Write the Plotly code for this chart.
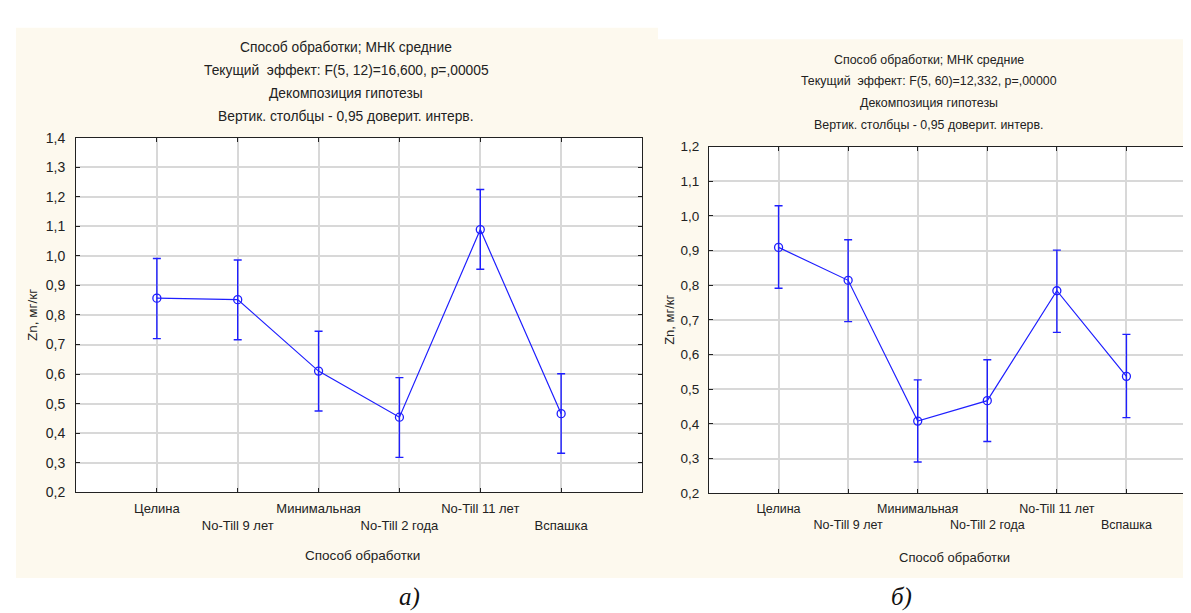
import plotly.graph_objects as go

categories = ["Целина", "No-Till 9 лет", "Минимальная", "No-Till 2 года", "No-Till 11 лет", "Вспашка"]

# Panel a)
mean_a = [0.857, 0.852, 0.610, 0.454, 1.089, 0.466]
upper_a = [0.991, 0.986, 0.745, 0.588, 1.225, 0.601]
lower_a = [0.720, 0.716, 0.475, 0.318, 0.955, 0.332]

# Panel б)
mean_b = [0.909, 0.814, 0.408, 0.467, 0.784, 0.537]
upper_b = [1.029, 0.931, 0.527, 0.585, 0.901, 0.658]
lower_b = [0.791, 0.695, 0.290, 0.349, 0.664, 0.418]

titles_a = ["Способ обработки; МНК средние",
            "Текущий  эффект: F(5, 12)=16,600, p=,00005",
            "Декомпозиция гипотезы",
            "Вертик. столбцы - 0,95 доверит. интерв."]
titles_b = ["Способ обработки; МНК средние",
            "Текущий  эффект: F(5, 60)=12,332, p=,00000",
            "Декомпозиция гипотезы",
            "Вертик. столбцы - 0,95 доверит. интерв."]

y_title = "Zn, мг/кг"
x_title = "Способ обработки"

W, H = 1191, 613
FONT = "Liberation Sans Narrow, Arial Narrow, Liberation Sans, Arial, sans-serif"
BLUE = "#1f1fff"
BEIGE = "#FDF9EE"
TXT = "#222222"

xpos = list(range(1, len(categories) + 1))
ticktext = [c if i % 2 == 0 else "<br>" + c for i, c in enumerate(categories)]


def px(x):
    return x / W


def py(y):
    return 1 - y / H


fig = go.Figure()

for mean, up, lo, xa, ya in [(mean_a, upper_a, lower_a, "x", "y"),
                             (mean_b, upper_b, lower_b, "x2", "y2")]:
    fig.add_trace(go.Scatter(
        x=xpos, y=mean, mode="lines+markers", xaxis=xa, yaxis=ya,
        line=dict(color=BLUE, width=1.2),
        marker=dict(symbol="circle-open", size=8, color=BLUE, line=dict(width=1.3)),
        error_y=dict(type="data", symmetric=False,
                     array=[u - m for u, m in zip(up, mean)],
                     arrayminus=[m - l for m, l in zip(mean, lo)],
                     color=BLUE, thickness=1.4, width=4),
        showlegend=False, hoverinfo="skip"))


def axis_common(size, standoff):
    return dict(
        showline=True, linecolor=TXT, linewidth=1, mirror="ticks",
        ticks="inside", ticklen=4, tickcolor=TXT,
        showgrid=True, gridcolor="#d8d8d8", gridwidth=1.5, zeroline=False,
        tickfont=dict(family=FONT, size=size, color=TXT),
        ticklabelstandoff=standoff,
    )


fig.update_layout(
    width=W, height=H,
    margin=dict(l=0, r=0, t=0, b=0),
    paper_bgcolor="white", plot_bgcolor="white",
    separators=", ",
    xaxis=dict(domain=[px(68), px(634)], range=[0, 7], tickvals=xpos, ticktext=ticktext,
               tickangle=0, anchor="y", **axis_common(13, 4)),
    yaxis=dict(domain=[py(489), py(125)], range=[0.2, 1.4], dtick=0.1, tick0=0.2,
               tickformat=".1f", anchor="x", **axis_common(14, 7)),
    xaxis2=dict(domain=[px(701), px(1188)], range=[0, 7], tickvals=xpos, ticktext=ticktext,
                tickangle=0, anchor="y2", **axis_common(12.5, 4)),
    yaxis2=dict(domain=[py(490), py(134)], range=[0.2, 1.2], dtick=0.1, tick0=0.2,
                tickformat=".1f", anchor="x2", **axis_common(13.5, 6)),
)

# panel backgrounds
fig.add_shape(type="rect", xref="paper", yref="paper", x0=px(8), x1=px(650), y0=py(577), y1=py(12),
              fillcolor=BEIGE, line=dict(width=0), layer="below")
fig.add_shape(type="rect", xref="paper", yref="paper", x0=px(650), x1=px(1191), y0=py(577), y1=py(24),
              fillcolor=BEIGE, line=dict(width=0), layer="below")
# white plotting areas
fig.add_shape(type="rect", xref="x domain", yref="y domain", x0=0, x1=1, y0=0, y1=1,
              fillcolor="white", line=dict(width=0), layer="below")
fig.add_shape(type="rect", xref="x2 domain", yref="y2 domain", x0=0, x1=1, y0=0, y1=1,
              fillcolor="white", line=dict(width=0), layer="below")


def note(text, x, y, size, angle=0, family=FONT, color=TXT):
    return dict(text=text, x=px(x), y=py(y), xref="paper", yref="paper",
                showarrow=False, xanchor="center", yanchor="middle", textangle=angle,
                font=dict(family=family, size=size, color=color))


ann = []
for t, yy in zip(titles_a, [32, 56, 80, 103]):
    ann.append(note(t, 338, yy, 13.8))
for t, yy in zip(titles_b, [45, 67, 89, 112]):
    ann.append(note(t, 921, yy, 12.4))

ann += [
    note(y_title, 25, 307, 13.5, angle=-90),
    note(y_title, 662, 312, 13, angle=-90),
    note(x_title, 354, 554, 13.5),
    note(x_title, 946, 556, 13),
    note("<i>а)</i>", 401, 597, 25, family="Liberation Serif, Times New Roman, serif", color="#111111"),
    note("<i>б)</i>", 893, 597, 25, family="Liberation Serif, Times New Roman, serif", color="#111111"),
]
fig.update_layout(annotations=ann)

fig.write_html("out.html")
